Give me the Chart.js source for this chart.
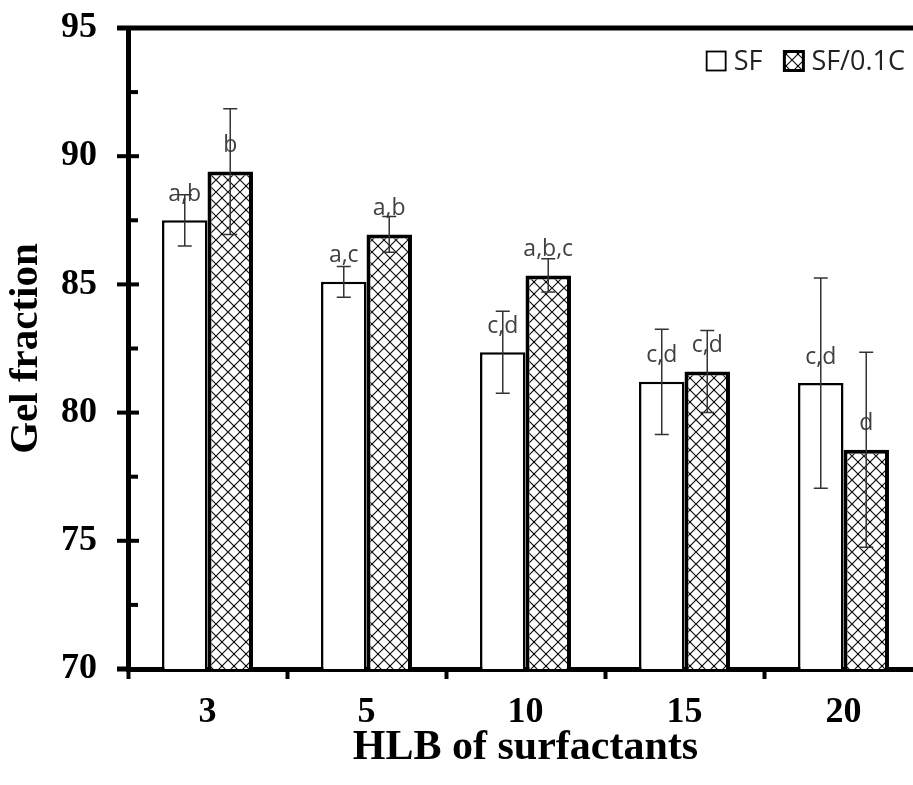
<!DOCTYPE html>
<html>
<head>
<meta charset="utf-8">
<title>Gel fraction vs HLB</title>
<script src="https://cdn.jsdelivr.net/npm/chart.js@4.4.1/dist/chart.umd.min.js"></script>
<style>
  html, body { margin: 0; padding: 0; background: #fff; overflow: hidden; }
  #wrap { width: 940px; height: 785px; }
</style>
</head>
<body>
<div id="wrap"><canvas id="gel" width="940" height="785"></canvas></div>
<script>
// data
const hlb = ['3', '5', '10', '15', '20'];
const sfMean = [87.5, 85.1, 82.35, 81.2, 81.15];
const sfErr = [1.0, 0.6, 1.6, 2.05, 4.1];
const sfLetters = ['a,b', 'a,c', 'c,d', 'c,d', 'c,d'];
const scMean = [89.4, 86.95, 85.35, 81.6, 78.55];
const scErr = [2.45, 0.7, 0.65, 1.6, 3.8];
const scLetters = ['b', 'a,b', 'a,b,c', 'c,d', 'd'];
const yMin = 70, yMax = 95, yMinor = 2.5, yMajor = 5;

const serif = "'Times New Roman', 'Liberation Serif', serif";
const sans = "'Open Sans', 'Noto Sans', sans-serif";

(function(){
  const canvas = document.getElementById('gel');

  // cross-hatch fill for the SF/0.1C bars
  function hatch(){
    const c = document.createElement('canvas');
    c.width = c.height = 12;
    const g = c.getContext('2d');
    g.fillStyle = '#fff';
    g.fillRect(0, 0, 12, 12);
    g.strokeStyle = '#111';
    g.lineWidth = 1.2;
    g.beginPath();
    g.moveTo(0, 0); g.lineTo(12, 12);
    g.moveTo(12, 0); g.lineTo(0, 12);
    g.stroke();
    g.fillStyle = '#000';
    g.fillRect(5, 5, 2, 2);
    return canvas.getContext('2d').createPattern(c, 'repeat');
  }
  const pattern = hatch();

  // frame: top border line, y tick marks (major both sides, minor inside)
  const frame = {
    id: 'frame',
    afterDraw(chart){
      const {ctx, chartArea: a, scales: {y}} = chart;
      ctx.save();
      ctx.fillStyle = '#000';
      ctx.fillRect(a.left - 11, a.top - 2.5, chart.width, 5);
      ctx.fillRect(a.left - 11, a.bottom - 2.5, 12, 5);
      y.ticks.forEach(t => {
        const py = y.getPixelForValue(t.value);
        if (t.value % yMajor === 0) ctx.fillRect(a.left - 11, py - 2, 22, 4);
        else ctx.fillRect(a.left, py - 2, 10, 4);
      });
      ctx.restore();
    }
  };

  // error bars and significance letters
  const errs = [sfErr, scErr];
  const letters = [sfLetters, scLetters];
  const annot = {
    id: 'annot',
    afterDatasetsDraw(chart){
      const {ctx, scales: {y}} = chart;
      ctx.save();
      chart.data.datasets.forEach((ds, di) => {
        const meta = chart.getDatasetMeta(di);
        meta.data.forEach((bar, i) => {
          ctx.fillStyle = '#404040';
          ctx.font = '23px ' + sans;
          ctx.textAlign = 'center';
          ctx.textBaseline = 'middle';
          ctx.fillText(letters[di][i], bar.x, bar.y - 26);

          const v = ds.data[i], e = errs[di][i];
          const hi = y.getPixelForValue(v + e), lo = y.getPixelForValue(v - e);
          ctx.strokeStyle = '#333';
          ctx.lineWidth = 1.5;
          ctx.beginPath();
          ctx.moveTo(bar.x, hi); ctx.lineTo(bar.x, lo);
          ctx.moveTo(bar.x - 7, hi); ctx.lineTo(bar.x + 7, hi);
          ctx.moveTo(bar.x - 7, lo); ctx.lineTo(bar.x + 7, lo);
          ctx.stroke();
        });
      });
      ctx.restore();
    }
  };

  // legend in the top right corner of the plot
  const legendBox = {
    id: 'legendBox',
    afterDraw(chart){
      const {ctx, chartArea: a} = chart;
      const box = 19, gap = 8, itemGap = 22;
      ctx.save();
      ctx.font = '27px ' + sans;
      const sets = chart.data.datasets;
      const widths = sets.map(ds => ctx.measureText(ds.label).width);
      let total = 0;
      widths.forEach((w, i) => { total += box + gap + w + (i ? itemGap : 0); });
      let x = a.right - 18 - total;
      const cy = a.top + 33;
      sets.forEach((ds, i) => {
        ctx.fillStyle = ds.backgroundColor;
        ctx.fillRect(x, cy - box / 2, box, box);
        ctx.strokeStyle = '#000';
        ctx.lineWidth = i ? 3 : 1.8;
        ctx.strokeRect(x, cy - box / 2, box, box);
        ctx.fillStyle = '#222';
        ctx.textBaseline = 'middle';
        ctx.fillText(ds.label, x + box + gap, cy + 1);
        x += box + gap + widths[i] + itemGap;
      });
      ctx.restore();
    }
  };

  new Chart(canvas, {
    type: 'bar',
    data: {
      labels: hlb,
      datasets: [
        { label: 'SF', data: sfMean, backgroundColor: '#fff', borderColor: '#000', borderWidth: 2.5 },
        { label: 'SF/0.1C', data: scMean, backgroundColor: pattern, borderColor: '#000', borderWidth: 4 }
      ]
    },
    options: {
      responsive: false,
      animation: false,
      layout: { padding: { top: 28, right: 17, left: 0, bottom: 0 } },
      datasets: { bar: { categoryPercentage: 0.572, barPercentage: 1 } },
      plugins: { legend: { display: false }, tooltip: { enabled: false } },
      scales: {
        x: {
          grid: { drawOnChartArea: false, drawTicks: true, tickLength: 10, tickWidth: 4, tickColor: '#000', offset: true },
          border: { color: '#000', width: 5 },
          ticks: { color: '#000', padding: 12, font: { family: serif, size: 36, weight: 'bold' } },
          title: {
            display: true, text: 'HLB of surfactants', color: '#000',
            font: { family: serif, size: 42, weight: 'bold', lineHeight: 1 },
            padding: { top: 0, bottom: 16 }
          },
          afterFit(s){ s.height = 116; s.paddingLeft = 0; s.paddingRight = 0; }
        },
        y: {
          min: yMin, max: yMax,
          grid: { drawOnChartArea: false, drawTicks: false },
          border: { color: '#000', width: 5 },
          ticks: {
            stepSize: yMinor, padding: 31, color: '#000', autoSkip: false,
            font: { family: serif, size: 36, weight: 'bold' },
            callback: v => (v % yMajor === 0 ? v : '')
          },
          title: {
            display: true, text: 'Gel fraction', color: '#000',
            font: { family: serif, size: 41, weight: 'bold', lineHeight: 1 },
            padding: { top: 6, bottom: 0 }
          },
          afterFit(s){ s.width = 128; s.paddingTop = 0; s.paddingBottom = 0; }
        }
      }
    },
    plugins: [annot, frame, legendBox]
  });
})();
</script>
</body>
</html>
